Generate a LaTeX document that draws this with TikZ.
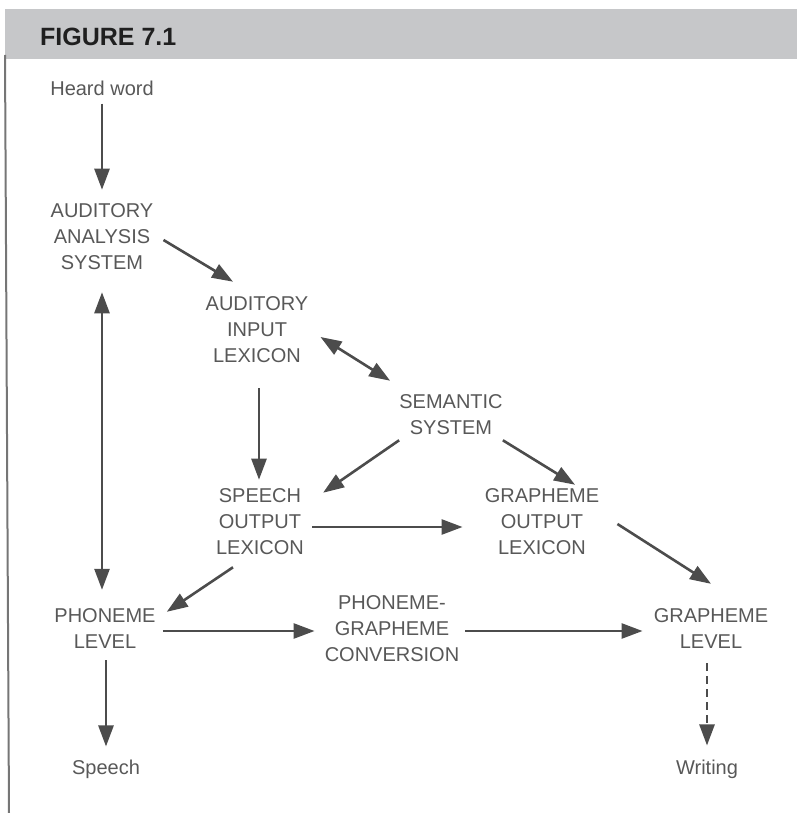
\documentclass[tikz,border=0pt]{standalone}
\usepackage{fontspec}
\setmainfont{Liberation Sans}
\usepackage{xcolor}
\usetikzlibrary{arrows.meta, calc}

\definecolor{bargrey}{HTML}{C6C7C9}
\definecolor{txtgrey}{HTML}{585858}
\definecolor{arrgrey}{HTML}{4C4C4C}
\definecolor{rulegrey}{HTML}{767676}

\begin{document}
\begin{tikzpicture}[x=1pt, y=-1pt, >={Triangle[length=21pt, width=15pt]}]
		\tikzstyle{stage} = [inner sep=0pt, align=center, text=txtgrey, font=\fontsize{20}{26}\selectfont]
		\tikzstyle{arrow} = [draw=arrgrey, line width=2.6pt, ->]
		\tikzstyle{twoway} = [draw=arrgrey, line width=2.6pt, <->]
		\tikzstyle{weak} = [arrow, dash pattern=on 8pt off 5pt]

		\useasboundingbox (0, 0) rectangle (797, 813);

		% header bar and left rule
		\fill[bargrey] (5, 9) rectangle (797, 59);
		\draw[rulegrey, line width=2pt] (5, 55) -- (9, 813);
		\node[inner sep=0pt, anchor=base west, text=black!88, font=\bfseries\fontsize{25}{30}\selectfont] at (40, 46) (title) {FIGURE 7.1};

		\node[stage] 	at (102, 88) 	(hw) 	{Heard word};
		\node[stage] 	at (102, 237) 	(aas) 	{AUDITORY\\ANALYSIS\\SYSTEM};
		\node[stage] 	at (257, 330) 	(ail) 	{AUDITORY\\INPUT\\LEXICON};
		\node[stage] 	at (451, 415) 	(sem) 	{SEMANTIC\\SYSTEM};
		\node[stage] 	at (260, 522) 	(sol) 	{SPEECH\\OUTPUT\\LEXICON};
		\node[stage] 	at (542, 522) 	(gol) 	{GRAPHEME\\OUTPUT\\LEXICON};
		\node[stage] 	at (105, 629) 	(pl) 	{PHONEME\\LEVEL};
		\node[stage] 	at (392, 629) 	(pgc) 	{PHONEME-\\GRAPHEME\\CONVERSION};
		\node[stage] 	at (711, 629) 	(gl) 	{GRAPHEME\\LEVEL};
		\node[stage] 	at (106, 769) 	(sp) 	{Speech};
		\node[stage] 	at (707, 769) 	(wr) 	{Writing};

		\draw[arrow] ([shift={(0, 8)}]hw.south) -- ([shift={(0, -14)}]aas.north);
		\draw[arrow] ([shift={(10, 3)}]aas.east) -- ([shift={(-24, -15)}]ail.north);
		\draw[arrow] ([shift={(2, 25)}]ail.south) -- ([shift={(-1, -9)}]sol.north);
		\draw[arrow] ([shift={(0, 5)}]sem.south west) -- ([shift={(19, 4)}]sol.north east);
		\draw[arrow] ([shift={(0, 5)}]sem.south east) -- ([shift={(33, -4)}]gol.north);
		\draw[arrow] ([shift={(8, 5)}]sol.east) -- ([shift={(-22, 5)}]gol.west);
		\draw[arrow] ([shift={(18, 2)}]gol.east) -- ([shift={(0, -25)}]gl.north);
		\draw[arrow] ([shift={(-27, 12)}]sol.south) -- ([shift={(11, 3)}]pl.north east);
		\draw[arrow] ([shift={(7, 2)}]pl.east) -- ([shift={(-10, 2)}]pgc.west);
		\draw[arrow] ([shift={(6, 2)}]pgc.east) -- ([shift={(-11, 2)}]gl.west);
		\draw[arrow] ([shift={(0, 11)}]sp.north |- pl.south) -- ([shift={(0, -13)}]sp.north);

		\draw[twoway] ([shift={(0, 22)}]aas.south) -- ([shift={(0, -19)}]aas.south |- pl.north);
		\draw[twoway] ([shift={(12, 7)}]ail.east) -- ([shift={(-9, -14)}]sem.north west);

		\draw[weak] ([shift={(0, 14)}]wr.north |- gl.south) -- ([shift={(0, -14)}]wr.north);
	\end{tikzpicture}
\end{document}
